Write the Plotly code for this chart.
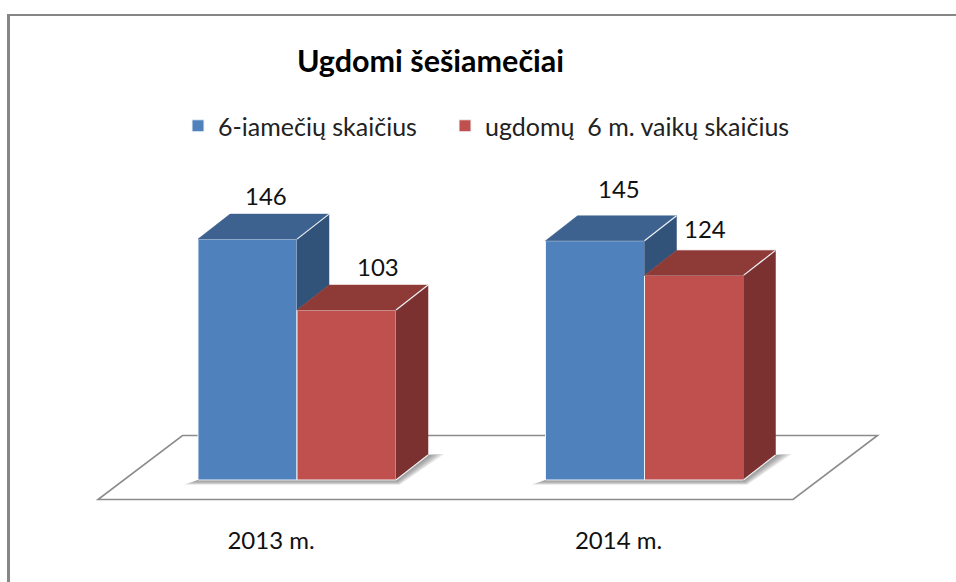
import plotly.graph_objects as go

# ---- data ----
categories = ["2013 m.", "2014 m."]
series_names = ["6-iamečių skaičius", "ugdomų  6 m. vaikų skaičius"]
six_year_olds = [146, 145]
educated_six_year_olds = [103, 124]

# ---- styles / geometry ----
WIDTH, HEIGHT = 956, 582
BOTTOM = 523
FONT = "Lato, Carlito, Calibri, sans-serif"
X_PX, Y_PX = 347.5, 1.65              # pixels per category / per unit
BAR_W = 99 / X_PX
DX, DY = 32 / X_PX, 25 / Y_PX         # 3D depth, in data units
FRONT = ["#4f81bd", "#c0504d"]
TOP = ["#3e6290", "#8e3b38"]
SIDE = ["#325379", "#7b3130"]
EDGE = "#eef2f7"
# label nudges in pixels (bar, category)
LABEL_SHIFT = {(0, 0): (18, 44), (1, 0): (31, 44), (0, 1): (24, 52), (1, 1): (11, 47)}

xs = list(range(len(categories)))
series = [six_year_olds, educated_six_year_olds]

fig = go.Figure()

# front faces
for s, vals in enumerate(series):
    fig.add_bar(x=xs, y=vals, name=series_names[s], width=BAR_W,
                offset=(s - 1) * BAR_W, legend="legend" if s == 0 else "legend2",
                marker=dict(color=FRONT[s], line=dict(color=EDGE, width=1)),
                hoverinfo="skip")


def poly(px, py, color):
    fig.add_scatter(x=px, y=py, mode="lines", fill="toself", fillcolor=color,
                    line=dict(color=color, width=0.5), showlegend=False, hoverinfo="skip")


def edge(px, py):
    fig.add_scatter(x=px, y=py, mode="lines", line=dict(color=EDGE, width=1.2),
                    showlegend=False, hoverinfo="skip")


shapes = []


def shape_path(pts, **kw):
    path = "M" + " L".join(f"{a:.4f},{b:.3f}" for a, b in pts) + " Z"
    shapes.append(dict(type="path", path=path, xref="x", yref="y", layer="below", **kw))


# floor
fl_l, fl_r = -199 / X_PX, (793 - 297) / X_PX
fl_front, fl_back = -19.5 / Y_PX, 44.5 / Y_PX
fl_dx = 84.5 / X_PX
shape_path([(fl_l, fl_front), (fl_r, fl_front), (fl_r + fl_dx, fl_back), (fl_l + fl_dx, fl_back)],
           fillcolor="white", line=dict(color="#8c8c8c", width=1.6))

# soft shadows on the floor, built up from translucent layers
for i in xs:
    left, right = i - BAR_W, i + BAR_W
    for k in range(1, 7):
        col = "rgba(70,70,70,0.13)"
        shape_path([(left - 2.4 * k / X_PX, -0.8 * k / Y_PX),
                    (right + 0.6 * k / X_PX, -0.8 * k / Y_PX),
                    (right + DX + 2.7 * k / X_PX, DY + 1 / Y_PX),
                    (right + DX, DY), (right, 0), (left, 0)],
                   fillcolor=col, line=dict(width=0))

# 3D faces, back to front, computed from the values
for i in xs:
    left = i - BAR_W
    mid = i
    right = i + BAR_W
    v0, v1 = six_year_olds[i], educated_six_year_olds[i]
    # blue top and the visible part of its side
    poly([left, mid, mid + DX, left + DX, left], [v0, v0, v0 + DY, v0 + DY, v0], TOP[0])
    poly([mid, mid + DX, mid + DX, mid, mid], [v0, v0 + DY, v1 + DY, v1, v0], SIDE[0])
    edge([mid, mid + DX], [v0, v0 + DY])
    # red top and side
    poly([mid, right, right + DX, mid + DX, mid], [v1, v1, v1 + DY, v1 + DY, v1], TOP[1])
    poly([right, right + DX, right + DX, right, right], [v1, v1 + DY, DY, 0, v1], SIDE[1])
    edge([right, right + DX], [v1, v1 + DY])
    edge([right, right + DX], [0, DY])

# value labels
annotations = []
for s, vals in enumerate(series):
    for i, v in enumerate(vals):
        sx, sy = LABEL_SHIFT[(s, i)]
        annotations.append(dict(x=i + (s - 0.5) * BAR_W, y=v, xref="x", yref="y", text=str(v),
                                showarrow=False, xshift=sx, yshift=sy,
                                font=dict(family=FONT, size=24, color="#111111")))


# chart frame (top and left rules), in pixels
def paper_y(p):
    return 1 - p / BOTTOM


shapes.append(dict(type="rect", xref="paper", yref="paper", x0=7 / WIDTH, x1=1,
                   y0=paper_y(16), y1=paper_y(14), fillcolor="#868686", line=dict(width=0)))
shapes.append(dict(type="rect", xref="paper", yref="paper", x0=7 / WIDTH, x1=10 / WIDTH,
                   y0=paper_y(HEIGHT), y1=paper_y(14), fillcolor="#868686", line=dict(width=0)))

legend_style = dict(orientation="h", xanchor="left", y=paper_y(103), yanchor="top",
                    bgcolor="rgba(0,0,0,0)", font=dict(family=FONT, size=25, color="#222222"))

fig.update_layout(
    width=WIDTH, height=HEIGHT, autosize=False,
    margin=dict(l=0, r=0, t=0, b=HEIGHT - BOTTOM, pad=0),
    paper_bgcolor="white", plot_bgcolor="white",
    barmode="overlay",
    title=dict(text="<b>Ugdomi šešiamečiai</b>", x=430.5 / WIDTH, xanchor="center",
               y=1 - 61 / HEIGHT, yanchor="middle",
               font=dict(family=FONT, size=30.5, color="#000000")),
    legend=dict(x=178 / WIDTH, **legend_style),
    legend2=dict(x=445 / WIDTH, **legend_style),
    xaxis=dict(range=[-297 / X_PX, (WIDTH - 297) / X_PX], tickmode="array",
               tickvals=[i - 26 / X_PX for i in xs], ticktext=categories,
               showgrid=False, zeroline=False, showline=False, ticks="", ticklabelstandoff=1,
               tickfont=dict(family=FONT, size=24, color="#111111")),
    yaxis=dict(range=[(480 - BOTTOM) / Y_PX, 480 / Y_PX], visible=False),
    shapes=shapes, annotations=annotations,
)

fig.write_html("out.html", config={"displayModeBar": False},
               post_script="document.body.style.margin='0';document.body.style.overflow='hidden';")
